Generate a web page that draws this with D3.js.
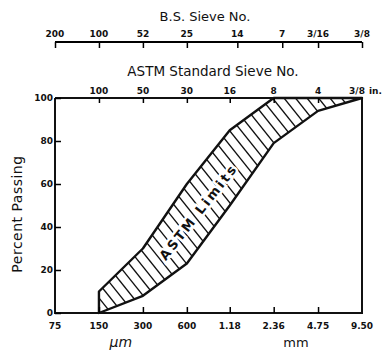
<!DOCTYPE html>
<html>
<head>
<meta charset="utf-8">
<script src="https://cdn.jsdelivr.net/npm/d3@7"></script>
<style>
body { margin: 0; background: #fff; }
text { font-family: "DejaVu Sans", sans-serif; fill: #111; }
</style>
</head>
<body>
<svg width="392" height="351"></svg>
<script>
"use strict";

// sieve openings in mm
var sizes = [0.075, 0.15, 0.3, 0.6, 1.18, 2.36, 4.75, 9.5];
var bottomLabels = ["75", "150", "300", "600", "1.18", "2.36", "4.75", "9.50"];
var astmLabels = ["100", "50", "30", "16", "8", "4", "3/8"];
var bsLabels = ["200", "100", "52", "25", "14", "7", "3/16", "3/8"];
var bsSizes = [0.075, 0.15, 0.3, 0.6, 1.33, 2.7, 4.75, 9.5];
var yTicks = [0, 20, 40, 60, 80, 100];

// ASTM limits, percent passing (sizes 150um .. 9.5mm)
var limitSizes = [0.15, 0.3, 0.6, 1.18, 2.36, 4.75, 9.5];
var upper = [10, 30, 60, 85, 100, 100, 100];
var lower = [0, 8, 23, 50, 79, 94, 100];

var svg = d3.select('svg');
var x = d3.scaleLog().domain([0.075, 9.5]).range([55, 362]);
var y = d3.scaleLinear().domain([0, 100]).range([313, 98]);

var upPts = limitSizes.map(function(d, i) {return [x(d), y(upper[i])]});
var lowPts = limitSizes.map(function(d, i) {return [x(d), y(lower[i])]});
var band = upPts.concat(lowPts.slice().reverse());

// hatching clipped to the band
svg.append('clipPath').attr('id', 'band')
	.append('polygon').attr('points', band.join(' '));

var hatch = [];
var step = 11.5, slope = 1.25;
for (var c = x.range()[0] - 300; c < x.range()[1] + 50; c += step) {
	hatch.push(c);
}
svg.append('g').attr('clip-path', 'url(#band)')
	.selectAll('line').data(hatch).enter().append('line')
	.attr('x1', function(d) {return d})
	.attr('y1', y(100))
	.attr('x2', function(d) {return d + (y(0) - y(100)) / slope})
	.attr('y2', y(0))
	.attr('stroke', '#111')
	.attr('stroke-width', 1.3);

svg.append('polygon')
	.attr('points', band.join(' '))
	.attr('fill', 'none')
	.attr('stroke', '#111')
	.attr('stroke-width', 2.4)
	.attr('stroke-linejoin', 'round');

// frame
var frame = d3.line()([[x(0.075), y(100)], [x(9.5), y(100)], [x(9.5), y(0)], [x(0.075), y(0)], [x(0.075), y(100)]]);
svg.append('path').attr('d', frame).attr('fill', 'none')
	.attr('stroke', '#111').attr('stroke-width', 2);

// left axis
var yAxis = svg.append('g').attr('transform', 'translate(' + x(0.075) + ',0)')
	.call(d3.axisRight(y).tickValues(yTicks).tickSize(6).tickFormat(''));
yAxis.select('.domain').remove();
yAxis.selectAll('line').attr('stroke-width', 1.5);
svg.selectAll('.ylab').data(yTicks).enter().append('text')
	.attr('x', x(0.075) - 2)
	.attr('y', function(d) {return y(d) + 3})
	.attr('text-anchor', 'end')
	.attr('font-size', 9).attr('font-weight', 'bold')
	.text(function(d) {return d});

// bottom axis
var xAxis = svg.append('g').attr('transform', 'translate(0,' + y(0) + ')')
	.call(d3.axisTop(x).tickValues(sizes.slice(1, 7)).tickSize(6).tickFormat(''));
xAxis.select('.domain').remove();
xAxis.selectAll('line').attr('stroke-width', 1.5);
svg.selectAll('.xlab').data(sizes).enter().append('text')
	.attr('x', function(d) {return x(d)})
	.attr('y', y(0) + 16)
	.attr('text-anchor', 'middle')
	.attr('font-size', 9).attr('font-weight', 'bold')
	.text(function(d, i) {return bottomLabels[i]});
svg.append('text').attr('x', x(0.212)).attr('y', 347)
	.attr('text-anchor', 'middle').attr('font-size', 14).attr('font-style', 'italic')
	.text('µm');
svg.append('text').attr('x', x(3.35)).attr('y', 347)
	.attr('text-anchor', 'middle').attr('font-size', 13)
	.text('mm');

// ASTM axis on top of plot
var aAxis = svg.append('g').attr('transform', 'translate(0,' + y(100) + ')')
	.call(d3.axisBottom(x).tickValues(sizes.slice(1, 7)).tickSize(5).tickFormat(''));
aAxis.select('.domain').remove();
aAxis.selectAll('line').attr('stroke-width', 1.5);
svg.selectAll('.alab').data(sizes.slice(1)).enter().append('text')
	.attr('x', function(d, i) {return i == 6 ? x(d) - 5 : x(d)})
	.attr('y', y(100) - 4)
	.attr('text-anchor', 'middle')
	.attr('font-size', 9).attr('font-weight', 'bold')
	.text(function(d, i) {return astmLabels[i]});
svg.append('text').attr('x', x(9.5) + 7).attr('y', y(100) - 4)
	.attr('font-size', 9).attr('font-weight', 'bold').text('in.');
svg.append('text').attr('x', 213).attr('y', 76)
	.attr('text-anchor', 'middle').attr('font-size', 13.5)
	.text('ASTM Standard Sieve No.');

// B.S. axis
var bsY = 42;
var bAxis = svg.append('g').attr('transform', 'translate(0,' + bsY + ')')
	.call(d3.axisBottom(x).tickValues(bsSizes).tickSize(6).tickFormat(''));
bAxis.select('.domain').attr('stroke-width', 2).attr('d', 'M' + x(0.075) + ',0H' + x(9.5));
bAxis.selectAll('line').attr('stroke-width', 1.5);
svg.selectAll('.blab').data(bsSizes).enter().append('text')
	.attr('x', function(d) {return x(d)})
	.attr('y', bsY - 5)
	.attr('text-anchor', 'middle')
	.attr('font-size', 9).attr('font-weight', 'bold')
	.text(function(d, i) {return bsLabels[i]});
svg.append('text').attr('x', 205).attr('y', 21)
	.attr('text-anchor', 'middle').attr('font-size', 13)
	.text('B.S. Sieve No.');

// y title
svg.append('text')
	.attr('transform', 'translate(22,214) rotate(-90)')
	.attr('text-anchor', 'middle').attr('font-size', 14)
	.attr('letter-spacing', 0.5)
	.text('Percent Passing');

// band label
svg.append('text')
	.attr('transform', 'translate(' + x(0.72) + ',' + y(47) + ') rotate(-52)')
	.attr('text-anchor', 'middle').attr('dy', '0.35em')
	.attr('font-size', 13).attr('font-weight', 'bold')
	.attr('letter-spacing', 2.5)
	.attr('stroke', '#fff').attr('stroke-width', 5)
	.attr('paint-order', 'stroke')
	.text('ASTM Limits');
</script>
</body>
</html>
